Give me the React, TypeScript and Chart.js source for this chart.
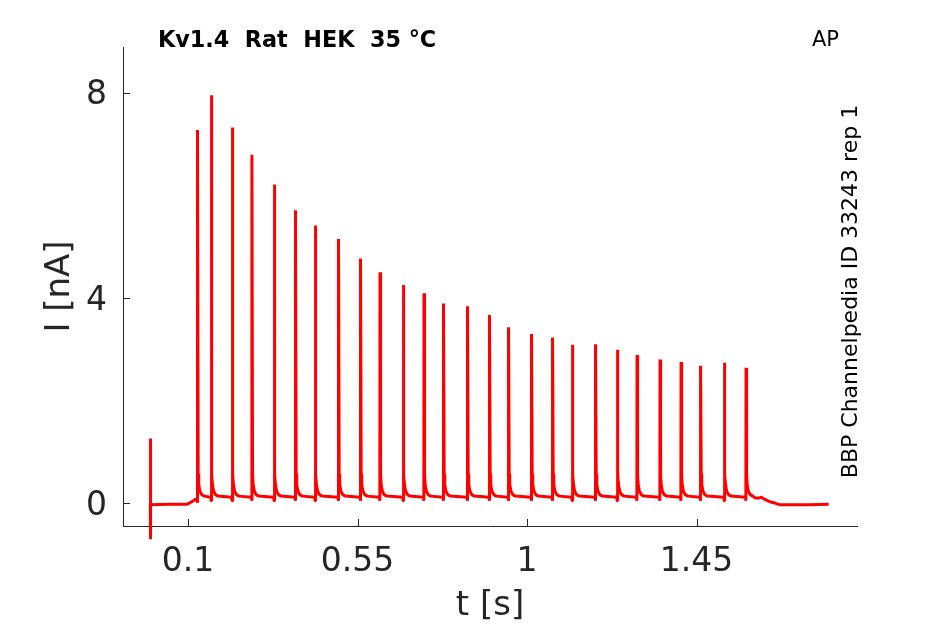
import React, { useEffect, useRef } from "react";
import { Chart, registerables } from "chart.js";

Chart.register(...registerables);

// Axis ticks
const xTicks = [0.1, 0.55, 1, 1.45];
const yTicks = [0, 4, 8];

// Stimulus artefact and pre-train baseline (t in s, I in nA)
const startTimes = [0, 0, 0.0004, 0.0015, 0.05, 0.097, 0.11, 0.118, 0.1235];
const startValues = [0, 1.26, -0.7, -0.03, -0.02, -0.02, 0.03, 0.07, 0.08];

// AP-evoked current peaks
const spikeTimes = [
  0.1255, 0.1619, 0.2176, 0.2699, 0.3291, 0.3856, 0.4379, 0.4998, 0.5582,
  0.6097, 0.6715, 0.7265, 0.7785, 0.8422, 0.9006, 0.9511, 1.0121, 1.0679,
  1.1202, 1.182, 1.2397, 1.292, 1.353, 1.4088, 1.4608, 1.5237, 1.5813,
];
const spikePeaks = [
  7.27, 7.95, 7.32, 6.79, 6.21, 5.71, 5.41, 5.15, 4.77, 4.5, 4.25, 4.09,
  3.89, 3.84, 3.67, 3.43, 3.3, 3.23, 3.09, 3.1, 2.99, 2.89, 2.8, 2.75, 2.68,
  2.74, 2.64,
];

// Shape of one spike: time offsets (s) and levels above the train baseline (nA)
const spikeTailOffsets = [0.0015, 0.003, 0.006, 0.011, 0.018];
const spikeTailLevels = [0.45, 0.25, 0.12, 0.05, 0.02];
const trainBaseline = 0.12;
const firstBaseline = 0.08;

// After the train
const endTimes = [1.605, 1.615, 1.622, 1.63, 1.645, 1.66, 1.672, 1.7, 1.75, 1.8006];
const endValues = [0.11, 0.1, 0.12, 0.08, 0.03, 0.0, -0.03, -0.03, -0.03, -0.02];

function buildTrace() {
  const pts: { x: number; y: number }[] = [];
  startTimes.forEach((t, i) => pts.push({ x: t, y: startValues[i] }));
  spikeTimes.forEach((ts, i) => {
    const base = i === 0 ? firstBaseline : trainBaseline;
    pts.push({ x: ts - 0.0015, y: base });
    pts.push({ x: ts - 0.0005, y: base - 0.07 });
    pts.push({ x: ts, y: spikePeaks[i] });
    spikeTailOffsets.forEach((o, k) =>
      pts.push({ x: ts + o, y: trainBaseline + spikeTailLevels[k] })
    );
  });
  endTimes.forEach((t, i) => pts.push({ x: t, y: endValues[i] }));
  return pts;
}

const AXIS_COLOR = "#262626";
const FONT = "'DejaVu Sans', sans-serif";

const decorPlugin = {
  id: "decor",
  afterDraw(chart: any) {
    const ctx = chart.ctx;
    const xs = chart.scales.x;
    const ys = chart.scales.y;
    const area = chart.chartArea;
    ctx.save();
    ctx.strokeStyle = AXIS_COLOR;
    ctx.lineWidth = 1;
    ctx.beginPath();
    xTicks.forEach((v) => {
      const px = Math.round(xs.getPixelForValue(v)) + 0.5;
      ctx.moveTo(px, area.bottom);
      ctx.lineTo(px, area.bottom - 7);
    });
    yTicks.forEach((v) => {
      const py = Math.round(ys.getPixelForValue(v)) + 0.5;
      ctx.moveTo(area.left, py);
      ctx.lineTo(area.left + 7, py);
    });
    ctx.stroke();

    ctx.fillStyle = "#000";
    ctx.textAlign = "left";
    ctx.textBaseline = "alphabetic";
    ctx.font = `bold 22.3px ${FONT}`;
    ctx.fillText("Kv1.4  Rat  HEK  35 °C", 158, 47);
    ctx.font = `21px ${FONT}`;
    ctx.fillText("AP", 812, 46);

    ctx.translate(857, 291.5);
    ctx.rotate(-Math.PI / 2);
    ctx.textAlign = "center";
    ctx.font = `22px ${FONT}`;
    ctx.fillText("BBP Channelpedia ID 33243 rep 1", 0, 0);
    ctx.restore();
  },
};

export default function App() {
  const ref = useRef<HTMLCanvasElement | null>(null);
  useEffect(() => {
    document.body.style.margin = "0";
    const canvas = ref.current;
    if (!canvas) return;
    const chart = new Chart(canvas, {
      type: "line",
      data: {
        datasets: [
          {
            data: buildTrace(),
            borderColor: "#ff0000",
            borderWidth: 3,
            borderJoinStyle: "bevel",
            pointRadius: 0,
            tension: 0,
            fill: false,
            clip: false as any,
          },
        ],
      },
      options: {
        animation: false,
        responsive: false,
        devicePixelRatio: 1,
        parsing: false,
        normalized: true,
        layout: { padding: { left: 0, top: 47, right: 88, bottom: 0 } },
        plugins: {
          legend: { display: false },
          tooltip: { enabled: false },
          title: { display: false },
        },
        scales: {
          x: {
            type: "linear",
            min: -0.0725,
            max: 1.8758,
            afterFit: (s: any) => {
              s.height = 98;
            },
            afterBuildTicks: (s: any) => {
              s.ticks = xTicks.map((v) => ({ value: v }));
            },
            grid: { display: false, drawTicks: false },
            border: { display: true, color: AXIS_COLOR, width: 1 },
            ticks: {
              color: AXIS_COLOR,
              font: { family: FONT, size: 33 },
              padding: 17,
              maxRotation: 0,
              autoSkip: false,
              callback: (v: any) => String(v),
            },
            title: {
              display: true,
              text: "t [s]",
              color: AXIS_COLOR,
              font: { family: FONT, size: 34 },
              padding: { top: 0, bottom: -3 },
            },
          },
          y: {
            type: "linear",
            min: -0.442,
            max: 8.888,
            afterFit: (s: any) => {
              s.width = 123;
            },
            afterBuildTicks: (s: any) => {
              s.ticks = yTicks.map((v) => ({ value: v }));
            },
            grid: { display: false, drawTicks: false },
            border: { display: true, color: AXIS_COLOR, width: 1 },
            ticks: {
              color: AXIS_COLOR,
              font: { family: FONT, size: 33 },
              padding: 16,
              labelOffset: 3,
              autoSkip: false,
              callback: (v: any) => String(v),
            },
            title: {
              display: true,
              text: "I [nA]",
              color: AXIS_COLOR,
              font: { family: FONT, size: 34 },
              padding: { top: 40, bottom: 0 },
            },
          },
        },
      },
      plugins: [decorPlugin],
    });
    return () => chart.destroy();
  }, []);
  return (
    <div style={{ width: 945, height: 624 }}>
      <canvas ref={ref} width={945} height={624} style={{ display: "block" }} />
    </div>
  );
}
